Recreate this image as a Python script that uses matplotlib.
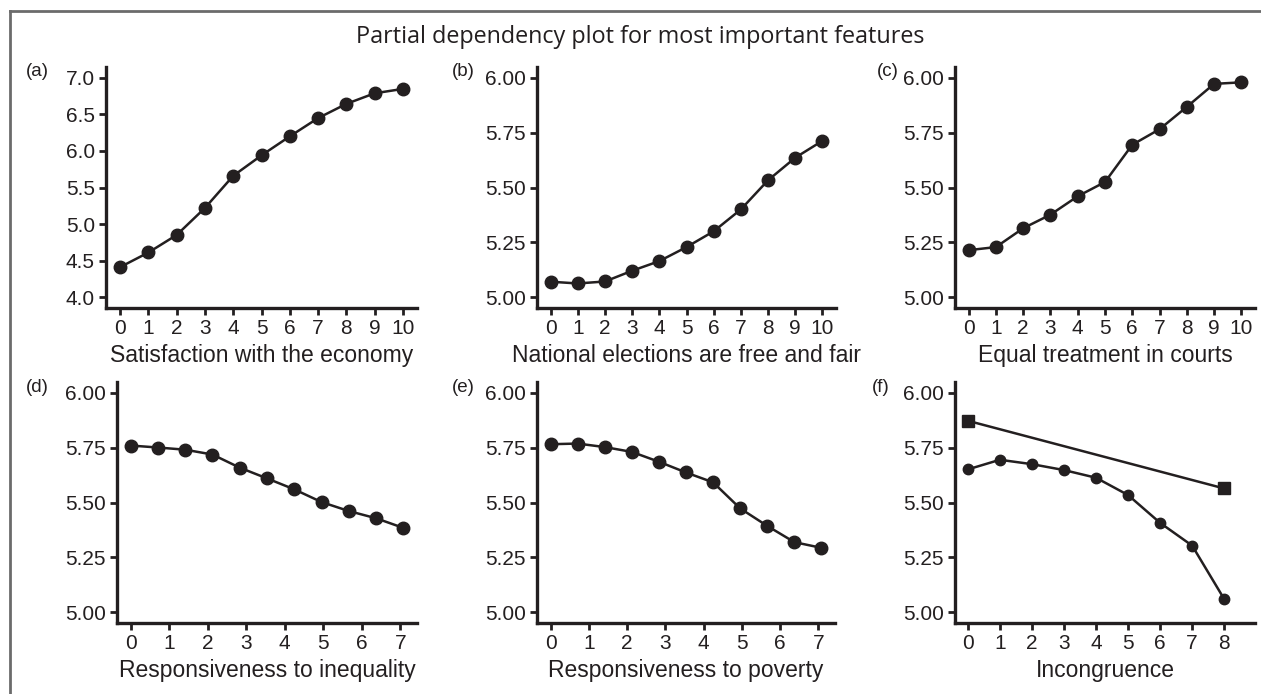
import matplotlib
matplotlib.use("Agg")
import matplotlib.pyplot as plt
from matplotlib.lines import Line2D
from matplotlib.ticker import FormatStrFormatter

W, H = 1261, 694
INK = "#231f20"

title = "Partial dependency plot for most important features"
panel_letters = ["(a)", "(b)", "(c)", "(d)", "(e)", "(f)"]
x_labels = ["Satisfaction with the economy", "National elections are free and fair",
            "Equal treatment in courts", "Responsiveness to inequality",
            "Responsiveness to poverty", "Incongruence"]

a_x = [0, 1, 2, 3, 4, 5, 6, 7, 8, 9, 10]
a_y = [4.41, 4.61, 4.85, 5.22, 5.66, 5.94, 6.20, 6.45, 6.645, 6.79, 6.85]
b_x = [0, 1, 2, 3, 4, 5, 6, 7, 8, 9, 10]
b_y = [5.07, 5.062, 5.071, 5.12, 5.164, 5.228, 5.30, 5.40, 5.533, 5.636, 5.713]
c_x = [0, 1, 2, 3, 4, 5, 6, 7, 8, 9, 10]
c_y = [5.214, 5.228, 5.314, 5.376, 5.46, 5.525, 5.695, 5.766, 5.868, 5.973, 5.98]
d_x = [0, 0.708, 1.416, 2.124, 2.832, 3.54, 4.248, 4.956, 5.664, 6.372, 7.08]
d_y = [5.76, 5.751, 5.741, 5.719, 5.659, 5.61, 5.56, 5.502, 5.461, 5.428, 5.384]
e_x = [0, 0.708, 1.416, 2.124, 2.832, 3.54, 4.248, 4.956, 5.664, 6.372, 7.08]
e_y = [5.766, 5.769, 5.753, 5.731, 5.686, 5.637, 5.592, 5.473, 5.393, 5.319, 5.293]
f_x = [0, 1, 2, 3, 4, 5, 6, 7, 8]
f_y = [5.651, 5.695, 5.675, 5.648, 5.613, 5.534, 5.407, 5.303, 5.059]
f_sq_x = [0, 8]
f_sq_y = [5.873, 5.564]

yt_a = [4.0, 4.5, 5.0, 5.5, 6.0, 6.5, 7.0]
yt_other = [5.00, 5.25, 5.50, 5.75, 6.00]
xt_10 = [0, 1, 2, 3, 4, 5, 6, 7, 8, 9, 10]
xt_7 = [0, 1, 2, 3, 4, 5, 6, 7]
xt_8 = [0, 1, 2, 3, 4, 5, 6, 7, 8]

plt.rcParams['font.family'] = ['Liberation Sans', 'DejaVu Sans']

fig = plt.figure(figsize=(W / 100, H / 100), dpi=100)

# pixel boxes: (left, right, top, bottom)
boxes = [(106, 417, 67, 308), (537, 836, 67, 308), (955, 1255, 67, 308),
         (117, 417, 382, 623), (537, 835, 382, 623), (955, 1255, 382, 623)]
letter_pos = [(26, 72), (452, 72), (877, 72), (26, 387), (452, 387), (872, 387)]

series = [(a_x, a_y), (b_x, b_y), (c_x, c_y), (d_x, d_y), (e_x, e_y), (f_x, f_y)]
xlims = [(-0.5, 10.5), (-0.5, 10.5), (-0.5, 10.5), (-0.354, 7.434), (-0.354, 7.434), (-0.4, 8.96)]
xticks = [xt_10, xt_10, xt_10, xt_7, xt_7, xt_8]

for i, (l, r, t, b) in enumerate(boxes):
    ax = fig.add_axes([l / W, 1 - b / H, (r - l) / W, (b - t) / H])
    xs, ys = series[i]
    ms = 9 if i < 5 else 7.5
    ax.plot(xs, ys, '-', color=INK, lw=1.8, marker='o', ms=ms, mfc=INK, mec=INK, clip_on=False, zorder=3)
    if i == 5:
        ax.plot(f_sq_x, f_sq_y, '-', color=INK, lw=1.8, marker='s', ms=8, mfc=INK, mec=INK, clip_on=False, zorder=3)
    ax.set_xlim(*xlims[i])
    if i == 0:
        ax.set_ylim(3.85, 7.15)
        ax.set_yticks(yt_a)
        ax.yaxis.set_major_formatter(FormatStrFormatter('%.1f'))
    else:
        ax.set_ylim(4.95, 6.05)
        ax.set_yticks(yt_other)
        ax.yaxis.set_major_formatter(FormatStrFormatter('%.2f'))
    ax.set_xticks(xticks[i])
    for s in ['top', 'right']:
        ax.spines[s].set_visible(False)
    for s in ['left', 'bottom']:
        ax.spines[s].set_linewidth(2.4)
        ax.spines[s].set_color(INK)
    ax.tick_params(direction='out', length=5, width=2, color=INK, labelcolor=INK,
                   labelsize=15, pad=3)
    ax.set_xlabel(x_labels[i], fontsize=16.5, color=INK, labelpad=4)
    ax.set_facecolor('none')
    lx, ly = letter_pos[i]
    fig.text(lx / W, 1 - ly / H, panel_letters[i], fontsize=13.5, color=INK, ha='left', va='center')

fig.text(640 / W, 1 - 37 / H, title, fontsize=16.8, family=['Open Sans', 'DejaVu Sans'],
         color=INK, ha='center', va='center')

# outer frame (top and left edges visible)
fig.add_artist(Line2D([10 / W, 1.0], [1 - 11 / H, 1 - 11 / H], transform=fig.transFigure,
                      color='#6b6b6b', lw=2))
fig.add_artist(Line2D([10 / W, 10 / W], [1 - 11 / H, 0.0], transform=fig.transFigure,
                      color='#6b6b6b', lw=2))

fig.savefig("out.png", dpi=100)
